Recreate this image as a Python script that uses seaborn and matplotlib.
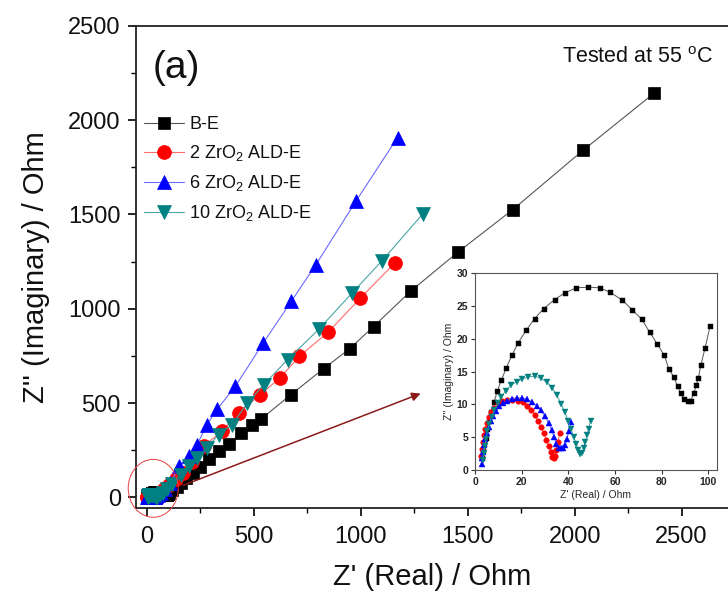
import matplotlib
matplotlib.use("Agg")
import numpy as np
import pandas as pd
import seaborn as sns
import matplotlib.pyplot as plt
from matplotlib.patches import Ellipse

# ---------------- data ----------------
labels = ["B-E", "2 ZrO$_2$ ALD-E", "6 ZrO$_2$ ALD-E", "10 ZrO$_2$ ALD-E"]

# high-frequency part (shown in inset and in main plot)
be_re_low = [3.0, 3.4, 3.9, 4.5, 5.2, 6.0, 6.9, 8.2, 9.5, 11.3, 13.3, 15.8, 18.5, 21.9, 25.5, 29.4, 34.1, 38.4, 43.4, 48.6,
             53.4, 58.0, 63.2, 67.5, 71.5, 74.9, 78.2, 81.1, 83.1, 85.2, 86.8, 88.1, 89.7, 91.1, 92.5, 93.8, 94.8, 95.7, 96.8, 98.6, 100.8]
be_im_low = [1.8, 2.9, 3.9, 4.9, 6.2, 7.4, 8.9, 10.4, 12.0, 13.7, 15.5, 17.5, 19.4, 21.3, 23.1, 24.6, 26.0, 27.0, 27.8, 27.9,
             27.8, 27.1, 25.9, 24.4, 23.0, 21.0, 19.2, 17.5, 15.4, 14.2, 12.8, 11.7, 10.8, 10.5, 10.6, 11.7, 12.9, 14.0, 16.0, 18.6, 22.0]
zr2_re_low = [2.6, 2.9, 3.3, 3.7, 4.3, 5.0, 5.9, 7.0, 8.3, 9.7, 11.6, 13.6, 15.9, 18.3, 20.4, 22.3, 24.0, 25.6, 27.0, 28.3,
              29.5, 30.6, 31.6, 32.4, 33.1, 33.7, 34.3, 34.9, 35.5, 36.3]
zr2_im_low = [2.2, 3.2, 4.2, 5.3, 6.3, 7.2, 8.1, 8.8, 9.5, 10.1, 10.5, 10.7, 10.7, 10.6, 10.3, 9.8, 9.2, 8.4, 7.5, 6.6,
              5.6, 4.6, 3.6, 2.7, 2.0, 1.8, 2.2, 3.0, 4.2, 5.6]
zr6_re_low = [2.9, 3.2, 3.5, 3.9, 4.4, 5.0, 5.8, 6.7, 7.8, 9.0, 10.4, 12.0, 13.8, 15.8, 18.0, 20.2, 22.4, 24.5, 26.5, 28.3,
              30.0, 31.5, 32.8, 33.9, 34.9, 35.8, 36.8, 37.8, 38.6, 39.4, 40.2, 41.0]
zr6_im_low = [0.9, 1.8, 2.8, 3.8, 4.8, 5.7, 6.6, 7.5, 8.3, 9.0, 9.7, 10.2, 10.6, 10.9, 11.0, 11.0, 10.8, 10.4, 9.8, 9.1,
              8.2, 7.2, 6.1, 5.0, 4.0, 3.4, 3.3, 3.3, 3.8, 4.8, 6.0, 7.3]
zr10_re_low = [3.5, 3.8, 4.2, 4.7, 5.3, 6.1, 7.1, 8.3, 9.7, 11.3, 13.2, 15.4, 17.8, 20.3, 22.9, 25.6, 28.3, 30.8, 33.1, 35.1,
               36.9, 38.5, 39.9, 41.2, 42.4, 43.4, 44.3, 45.1, 45.9, 46.6, 47.3, 48.0, 48.7, 49.5]
zr10_im_low = [1.5, 2.6, 3.7, 4.8, 5.9, 7.0, 8.1, 9.2, 10.2, 11.2, 12.1, 12.9, 13.5, 13.9, 14.2, 14.3, 14.0, 13.4, 12.5, 11.4,
               10.1, 8.8, 7.5, 6.2, 5.0, 3.9, 3.0, 2.5, 2.6, 3.3, 4.3, 5.3, 6.3, 7.4]

# low-frequency tail (main plot only)
be_re_high = [105, 120, 140, 160, 185, 215, 250, 289, 336, 382, 440, 491, 535, 674, 826, 948, 1060, 1235, 1454, 1710, 2040, 2371]
be_im_high = [25, 38, 55, 75, 100, 130, 162, 201, 245, 284, 342, 386, 416, 545, 682, 788, 906, 1095, 1300, 1525, 1841, 2143]
zr2_re_high = [45, 60, 80, 105, 135, 170, 210, 265, 351, 429, 530, 624, 713, 847, 998, 1161]
zr2_im_high = [12, 25, 42, 65, 95, 130, 190, 271, 351, 448, 545, 635, 748, 875, 1056, 1245]
zr6_re_high = [50, 65, 85, 110, 149, 195, 235, 281, 328, 414, 545, 675, 790, 979, 1172]
zr6_im_high = [12, 25, 45, 75, 166, 219, 280, 386, 466, 589, 820, 1039, 1233, 1573, 1908]
zr10_re_high = [60, 75, 95, 120, 160, 195, 235, 281, 336, 398, 470, 546, 658, 806, 959, 1099, 1290]
zr10_im_high = [12, 25, 45, 70, 120, 165, 210, 263, 333, 386, 500, 598, 730, 894, 1083, 1254, 1503]

low_re = [be_re_low, zr2_re_low, zr6_re_low, zr10_re_low]
low_im = [be_im_low, zr2_im_low, zr6_im_low, zr10_im_low]
high_re = [be_re_high, zr2_re_high, zr6_re_high, zr10_re_high]
high_im = [be_im_high, zr2_im_high, zr6_im_high, zr10_im_high]

marker_colors = ["#000000", "#ff0000", "#0000ff", "#008080"]
line_colors = ["#555555", "#ff6a6a", "#6a6aff", "#4aa5a5"]
markers = ["s", "o", "^", "v"]

# ---------------- figure ----------------
sns.set_theme(style="ticks")
plt.rcParams["font.family"] = ["Liberation Sans", "DejaVu Sans"]
plt.rcParams["mathtext.fontset"] = "custom"
plt.rcParams["mathtext.rm"] = "Liberation Sans"
plt.rcParams["mathtext.it"] = "Liberation Sans:italic"

fig = plt.figure(figsize=(7.28, 6.03), dpi=100)
fig.patch.set_facecolor("white")
ax = fig.add_axes([0.187, 0.158, 0.813, 0.799])

main_ms = [9.0, 10.0, 10.5, 10.5]
for i in range(4):
    df = pd.DataFrame({"re": low_re[i] + high_re[i], "im": low_im[i] + high_im[i]})
    sns.lineplot(data=df, x="re", y="im", ax=ax, sort=False, estimator=None,
                 color=line_colors[i], linewidth=0.8, marker=markers[i],
                 markersize=main_ms[i], markerfacecolor=marker_colors[i],
                 markeredgecolor=marker_colors[i], markeredgewidth=0.5,
                 label=labels[i])

ax.set_xlim(-50, 2717)
ax.set_ylim(-55, 2500)
ax.set_xticks([0, 500, 1000, 1500, 2000, 2500])
ax.set_yticks([0, 500, 1000, 1500, 2000, 2500])
ax.set_xticks([250, 750, 1250, 1750, 2250], minor=True)
ax.set_yticks([250, 750, 1250, 1750, 2250], minor=True)
ax.tick_params(axis="both", which="major", direction="out", length=6, width=1.2,
               labelsize=17, color="black", labelcolor="#111111", pad=5)
ax.tick_params(axis="both", which="minor", direction="out", length=3.5, width=1.0, color="black")
ax.tick_params(axis="x", which="major", pad=7)
for s in ["left", "bottom", "top"]:
    ax.spines[s].set_color("#222222")
    ax.spines[s].set_linewidth(1.3)
ax.spines["right"].set_visible(False)
ax.set_xlabel("Z' (Real) / Ohm", fontsize=21, color="#111111", labelpad=11)
ax.set_ylabel("Z'' (Imaginary) / Ohm", fontsize=21, color="#111111", labelpad=13)

ax.text(0.028, 0.912, "(a)", transform=ax.transAxes, fontsize=28, ha="left", va="center", color="#111111")
ax.text(0.975, 0.935, "Tested at 55 $^{\\mathrm{o}}$C", transform=ax.transAxes, fontsize=15.5,
        ha="right", va="center", color="#111111")

leg = ax.legend(loc="upper left", bbox_to_anchor=(-0.005, 0.835), frameon=False, fontsize=13,
                handlelength=2.2, handletextpad=0.3, labelspacing=0.55, borderaxespad=0.2)
for t in leg.get_texts():
    t.set_color("#111111")

# highlight ellipse and arrow
ax.add_patch(Ellipse((30, 48), width=234, height=307, fill=False, edgecolor="#e84040",
                     linewidth=0.7, clip_on=False, zorder=5))
ax.annotate("", xy=(1292, 556), xytext=(157, 58),
            arrowprops=dict(arrowstyle="-|>", color="#8b1a1a", lw=1.1, mutation_scale=13))

# ---------------- inset ----------------
ins = fig.add_axes([0.6525, 0.2206, 0.332, 0.326])
ins.set_facecolor("white")
inset_ms = [3.6, 4.0, 4.2, 4.2]
for i in range(4):
    dfi = pd.DataFrame({"re": low_re[i], "im": low_im[i]})
    sns.lineplot(data=dfi, x="re", y="im", ax=ins, sort=False, estimator=None,
                 color=line_colors[i], linewidth=0.7, marker=markers[i],
                 markersize=inset_ms[i], markerfacecolor=marker_colors[i],
                 markeredgecolor=marker_colors[i], markeredgewidth=0.3, legend=False)
ins.set_xlim(0, 103.6)
ins.set_ylim(0, 30)
ins.set_xticks([0, 20, 40, 60, 80, 100])
ins.set_yticks([0, 5, 10, 15, 20, 25, 30])
ins.tick_params(axis="both", which="major", direction="out", length=3, width=0.8,
                labelsize=7.5, pad=2, color="#333333")
for lab in ins.get_xticklabels() + ins.get_yticklabels():
    lab.set_fontweight("bold")
for s in ins.spines.values():
    s.set_color("#555555")
    s.set_linewidth(0.8)
ins.set_xlabel("Z' (Real) / Ohm", fontsize=7.5, labelpad=2)
ins.set_ylabel("Z'' (Imaginary) / Ohm", fontsize=7.5, labelpad=2)

fig.savefig("out.png", dpi=100)
